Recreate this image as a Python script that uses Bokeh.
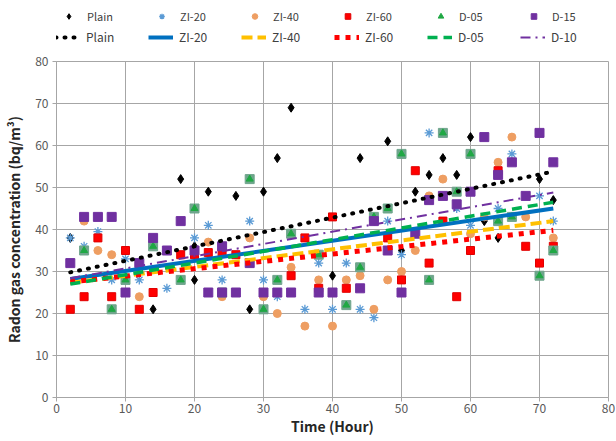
from bokeh.plotting import figure
from bokeh.layouts import column
from bokeh.models import Legend, LegendItem, Range1d, FixedTicker
from bokeh.embed import file_html
from bokeh.resources import INLINE

# ---------------- data ----------------
plain_x = [2, 14, 18, 20, 20, 22, 26, 28, 30, 32, 34, 40, 44, 48, 50, 52, 54, 56, 58, 60, 62, 64, 70, 72]
plain_y = [38, 21, 52, 28, 36, 49, 48, 21, 49, 57, 69, 29, 57, 61, 35, 49, 53, 57, 53, 62, 42, 38, 52, 47]

zi20_x = [2, 4, 6, 8, 10, 12, 16, 20, 22, 24, 28, 30, 32, 36, 38, 40, 42, 44, 46, 48, 50, 54, 58, 60, 64, 66, 70, 72]
zi20_y = [38, 36, 39.5, 28, 33, 28, 26, 38, 41, 28, 42, 28, 24, 21, 32, 21, 32, 21, 19, 42, 34, 63, 45, 41, 45, 58, 48, 42]

zi40_x = [4, 6, 8, 12, 14, 22, 24, 28, 30, 32, 34, 36, 38, 40, 42, 44, 46, 48, 50, 52, 54, 56, 60, 62, 64, 66, 68, 72]
zi40_y = [42, 35, 34, 24, 36, 37, 24, 38, 24, 20, 31, 17, 28, 17, 28, 29, 21, 28, 30, 35, 48, 52, 39, 43, 56, 62, 43, 38]

zi60_x = [2, 4, 6, 8, 10, 12, 14, 18, 20, 22, 24, 26, 34, 36, 38, 40, 42, 48, 50, 52, 54, 56, 58, 60, 64, 68, 70, 72]
zi60_y = [21, 24, 38, 24, 35, 21, 25, 34, 34, 34.5, 34.5, 34, 29, 38, 26, 43, 26, 38, 28, 54, 32, 42, 24, 35, 54, 36, 32, 36]

d05_x = [4, 8, 10, 14, 18, 20, 24, 28, 30, 32, 34, 38, 42, 44, 46, 48, 50, 54, 56, 58, 60, 64, 66, 70, 72]
d05_y = [35, 21, 28, 36, 28, 45, 25, 52, 21, 28, 39, 34, 22, 31, 43, 45, 58, 28, 63, 49, 58, 42, 43, 29, 35]

d15_x = [2, 4, 6, 8, 10, 12, 14, 16, 18, 20, 22, 24, 24, 26, 28, 30, 32, 34, 38, 40, 44, 46, 48, 50, 52, 54, 56, 58, 60, 62, 64, 66, 68, 70, 72]
d15_y = [32, 43, 43, 43, 25, 32, 38, 35, 42, 35, 25, 36, 25, 25, 32, 25, 25, 25, 25, 25, 26, 42, 35, 25, 39, 47, 48, 46, 49, 62, 53, 56, 48, 63, 56]

# linear trend lines: value at start / end hour
trend_x = [2, 72]
trend_plain = [29.8, 53.8]
trend_zi20 = [28.2, 45.0]
trend_zi40 = [27.3, 42.0]
trend_zi60 = [27.5, 39.8]
trend_d05 = [27.0, 46.5]
trend_d10 = [28.4, 48.8]

ticks = [0, 10, 20, 30, 40, 50, 60, 70, 80]

FONT = "Noto Sans CJK KR"

W = 616
LEG_H = 53
H = 441 - LEG_H
TOP, BOTTOM, LEFT, RIGHT = 61 - LEG_H, 44, 56, 8

# ---------------- styles ----------------
S_PLAIN = dict(marker="diamond", size=9, fill_color="black", line_color="black")
S_ZI20 = dict(marker="asterisk", size=9, line_color="#5B9BD5", line_width=1.3)
S_ZI40 = dict(marker="circle", size=8, fill_color="#EE9E62", line_color="#EE9E62")
S_ZI60 = dict(marker="square", size=8, fill_color="#FF0000", line_color="#E00000")
S_D05BG = dict(marker="square", size=9, fill_color="#6FA58C", line_color="#6FA58C")
S_D05 = dict(marker="triangle", size=7, fill_color="#1FA844", line_color="#1FA844")
S_D15 = dict(marker="square", size=9, fill_color="#7030A0", line_color="#7030A0")

T_PLAIN = dict(line_color="black", line_width=4, line_dash="1 8", line_cap="round")
T_ZI20 = dict(line_color="#0070C0", line_width=4)
T_ZI40 = dict(line_color="#FFC000", line_width=4, line_dash="11 5")
T_ZI60 = dict(line_color="#FF0000", line_width=5, line_dash="5 6")
T_D05 = dict(line_color="#00B050", line_width=3.5, line_dash="10 6")
T_D10 = dict(line_color="#7030A0", line_width=2, line_dash="10 5 2 5")

# ---------------- main chart ----------------
p = figure(width=W, height=H, x_range=Range1d(0, 80), y_range=Range1d(0, 80),
           output_backend="svg", toolbar_location=None,
           min_border_left=LEFT, min_border_right=RIGHT, min_border_top=TOP, min_border_bottom=BOTTOM)

p.outline_line_color = "#A6A6A6"
p.background_fill_color = "white"
p.border_fill_color = "white"

for ax in (p.xaxis[0], p.yaxis[0]):
    ax.ticker = FixedTicker(ticks=ticks)
    ax.axis_line_color = "#A6A6A6"
    ax.major_tick_line_color = "#A6A6A6"
    ax.major_tick_out = 4
    ax.major_tick_in = 0
    ax.minor_tick_line_color = None
    ax.major_label_text_font = FONT
    ax.major_label_text_font_size = "12px"
    ax.major_label_text_color = "#595959"
    ax.axis_label_text_font = FONT
    ax.axis_label_text_font_size = "14px"
    ax.axis_label_text_font_style = "bold"
    ax.axis_label_text_color = "#262626"

p.xaxis.axis_label = "Time (Hour)"
p.yaxis.axis_label = "Radon gas concentration (bq/m³)"
p.xaxis.axis_label_standoff = 0
p.yaxis.axis_label_standoff = 8
p.xaxis.major_label_standoff = 2
p.yaxis.major_label_standoff = 4

p.xgrid.ticker = FixedTicker(ticks=ticks)
p.ygrid.ticker = FixedTicker(ticks=ticks)
p.xgrid.grid_line_color = "#A6A6A6"
p.ygrid.grid_line_color = "#A6A6A6"

p.scatter(plain_x, plain_y, **S_PLAIN)
p.scatter(zi20_x, zi20_y, **S_ZI20)
p.scatter(zi40_x, zi40_y, **S_ZI40)
p.scatter(zi60_x, zi60_y, **S_ZI60)
p.scatter(d05_x, d05_y, **S_D05BG)
p.scatter(d05_x, d05_y, **S_D05)
p.scatter(d15_x, d15_y, **S_D15)

p.line(trend_x, trend_plain, **T_PLAIN)
p.line(trend_x, trend_zi20, **T_ZI20)
p.line(trend_x, trend_zi40, **T_ZI40)
p.line(trend_x, trend_zi60, **T_ZI60)
p.line(trend_x, trend_d05, **T_D05)
p.line(trend_x, trend_d10, **T_D10)

# ---------------- legend strip above the chart ----------------
lf = figure(width=W, height=LEG_H, x_range=Range1d(0, 1), y_range=Range1d(0, 1),
            output_backend="svg", toolbar_location=None, x_axis_type=None, y_axis_type=None,
            min_border=0, outline_line_color=None)
lf.grid.visible = False
lf.border_fill_color = "white"

names_marks = ["Plain", "ZI-20", "ZI-40", "ZI-60", "D-05", "D-15"]
names_lines = ["Plain", "ZI-20", "ZI-40", "ZI-60", "D-05", "D-10"]

# legend-only renderers: a single point kept outside the visible range
m_rs = [lf.scatter([-5], [-5], **s) for s in (S_PLAIN, S_ZI20, S_ZI40, S_ZI60, S_D05, S_D15)]
l_rs = [lf.line([-5, -4], [-5, -5], **t) for t in (T_PLAIN, T_ZI20, T_ZI40, T_ZI60, T_D05, T_D10)]

def make_legend(names, rs, fs, loc):
    return Legend(items=[LegendItem(label=n, renderers=[r]) for n, r in zip(names, rs)],
                  orientation="horizontal", location=loc,
                  border_line_color=None, background_fill_alpha=0,
                  label_text_font=FONT, label_text_font_size=fs, label_text_color="#404040",
                  glyph_width=25, glyph_height=14, label_standoff=6, label_width=57,
                  spacing=5, padding=0, margin=0, label_height=14)

lf.add_layout(make_legend(names_marks, m_rs, "11px", (0, LEG_H - 24)))
lf.add_layout(make_legend(names_lines, l_rs, "12px", (-1, LEG_H - 45)))

page = column(lf, p, spacing=0)

open("out.html", "w").write(file_html(page, INLINE))
